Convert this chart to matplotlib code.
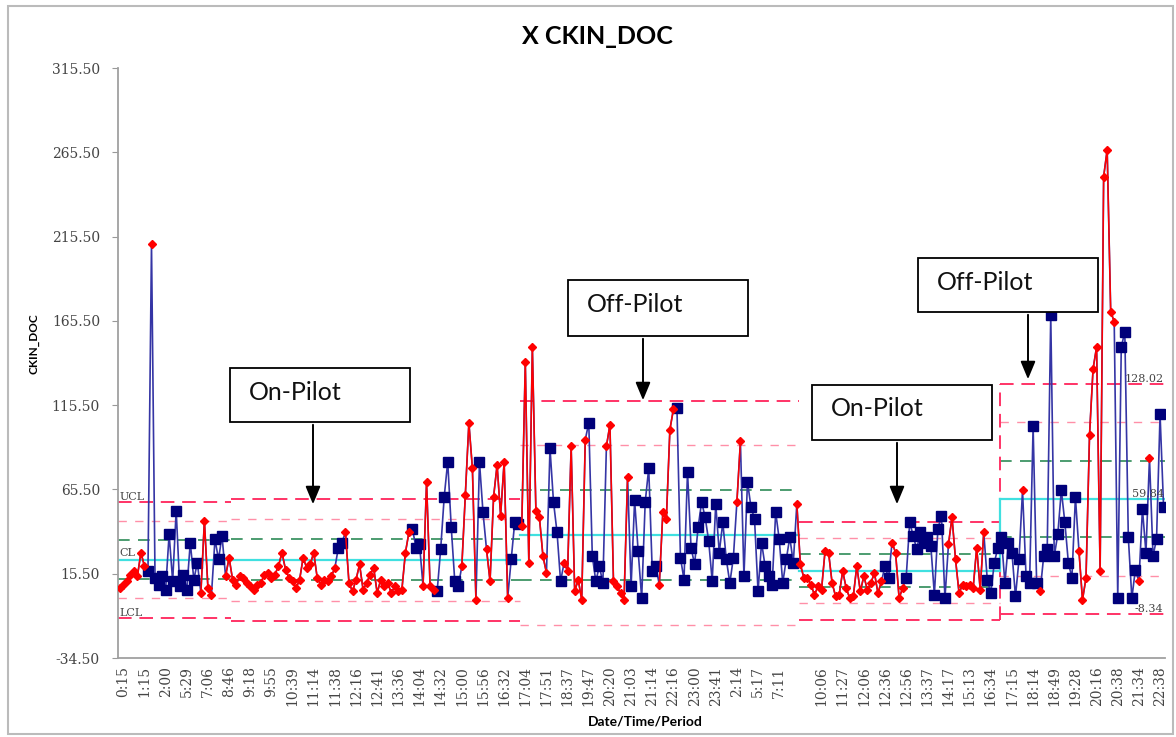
import numpy as np
import matplotlib.pyplot as plt
from matplotlib.patches import Rectangle, FancyArrowPatch

# values per control-limit stage; flags: r = out of control, b = in control
vals_1a = [7, 9, 11, 15, 17, 14, 28, 20, 17, 211,
           13, 9, 14, 6, 39, 11, 53, 8, 15, 6,
           34, 12, 22, 4, 47, 7, 3, 36, 24, 38,
           14, 25]
flags_1a = "rrrrrrrrbr bbbbbbbbbb bbbrrrrbbb rr"

vals_1b = [12, 9, 14, 13, 10, 8, 6, 9, 10, 15,
           16, 13, 15, 20, 28, 18, 13, 11, 7, 12,
           25, 19, 21, 28, 13, 9, 12, 11, 14, 19,
           31, 34, 40, 10, 5, 12, 21, 6, 10, 15,
           19, 4, 12, 8, 10, 4, 8, 5, 6, 28,
           40, 42, 31, 33, 8, 70, 8, 6, 5, 30,
           61, 82, 43, 11, 8, 20, 62, 105, 78, 0,
           82, 52, 30, 11, 61, 80, 50, 82, 1, 24,
           46, 45]
flags_1b = "rrrrrrrrrr rrrrrrrrrr rrrrrrrrrr bbrrrrrrrr rrrrrrrrrr rbbbrrrrbb bbbbbrrrrr bbrrrrrrrb bb"

vals_2 = [44, 141, 22, 150, 53, 49, 26, 16, 90, 58,
          40, 11, 22, 17, 91, 5, 12, 0, 95, 105,
          26, 11, 20, 10, 91, 104, 11, 8, 4, 0,
          73, 8, 59, 29, 1, 58, 78, 17, 20, 9,
          52, 48, 101, 113, 114, 25, 12, 76, 31, 21,
          43, 58, 49, 35, 11, 57, 28, 46, 24, 10,
          25, 58, 94, 14, 70, 55, 48, 5, 34, 20,
          14, 9, 52, 36, 10, 24, 37, 22, 57]
flags_2 = "rrrrrrrrbb bbrrrrrrrb bbbbrrrrrr rbbbbbbbbr rrrrbbbbbb bbbbbbbbbb brrbbbbbbb bbbbbbbbr"

vals_3 = [21, 13, 13, 9, 3, 8, 6, 29, 28, 10,
          2, 3, 17, 7, 1, 2, 20, 5, 14, 6,
          10, 16, 4, 11, 20, 13, 34, 28, 1, 7,
          13, 46, 38, 30, 40, 34, 37, 32, 3, 42,
          50, 1, 33, 49, 24, 4, 9, 8, 9, 7,
          31, 6, 40, 12, 4, 22, 31]
flags_3 = "rrrrrrrrrr rrrrrrrrrr rrrrbbrrrr bbbbbbbbbb bbrrrrrrrr rrrbbbb"

vals_4 = [37, 10, 34, 28, 2, 24, 65, 14, 10, 103,
          10, 5, 26, 30, 169, 26, 39, 65, 46, 22,
          13, 61, 29, 0, 13, 98, 137, 150, 17, 251,
          267, 171, 165, 1, 150, 159, 37, 1, 18, 11,
          54, 28, 84, 26, 36, 110, 55]
flags_4 = "bbbbbbrbbb brbbbbbbbb bbrrrrrrrr rrrbbbbbbr bbrbbbb"

# centre line and sigma of each stage
stage_cl = [23.8, 23.8, 38.4, 17.3, 59.84]
stage_sigma = [11.5, 12.1, 26.6, 9.7, 22.727]

tick_labels = ['0:15', '1:15', '2:00', '5:29', '7:06', '8:46', '9:18', '9:55', '10:39', '11:14',
               '11:38', '12:16', '12:41', '13:36', '14:04', '14:32', '15:00', '15:56', '16:32', '17:04',
               '17:51', '18:37', '19:47', '20:20', '21:03', '21:14', '22:16', '23:00', '23:41', '2:14',
               '5:17', '7:11', '', '10:06', '11:27', '12:06', '12:36', '12:56', '13:37', '14:17',
               '15:13', '16:34', '17:15', '18:14', '18:49', '19:28', '20:16', '20:38', '21:34', '22:38']

all_vals = [vals_1a, vals_1b, vals_2, vals_3, vals_4]
all_flags = [flags_1a, flags_1b, flags_2, flags_3, flags_4]
for v, f in zip(all_vals, all_flags):
    assert len(v) == len(f.replace(' ', '')), (len(v), len(f.replace(' ', '')))

values = np.array(sum(all_vals, []), dtype=float)
is_red = np.array([c == 'r' for c in ''.join(all_flags).replace(' ', '')])
x = np.arange(len(values))

W, H = 1176, 737
fig = plt.figure(figsize=(W / 100, H / 100), dpi=100)
ax = fig.add_axes([118 / W, 1 - 658 / H, 1047 / W, 590 / H])

# control limit lines
styles = {3: dict(color='#FF3366', lw=1.4, dashes=(7, 4)),
          2: dict(color='#FF8FA8', lw=1.0, dashes=(6, 6)),
          1: dict(color='#2E8B57', lw=1.2, dashes=(7, 5)),
          0: dict(color='#40E0E0', lw=1.6)}
start = 0
bounds = []
for vals, cl, sg in zip(all_vals, stage_cl, stage_sigma):
    end = start + len(vals)
    bounds.append((start - 0.5, end - 0.5))
    for m in (-3, -2, -1, 0, 1, 2, 3):
        y = cl + m * sg
        if -34.5 < y < 315.5:
            ax.plot([start - 0.5, end - 0.5], [y, y], zorder=2, **styles[abs(m)])
    start = end

# step between third and fourth stage
xb = bounds[4][0]
ax.plot([xb, xb], [stage_cl[3] - 3 * stage_sigma[3], stage_cl[4] + 3 * stage_sigma[4]],
        zorder=2, **styles[3])
ax.plot([xb, xb], [stage_cl[3], stage_cl[4]], zorder=2, **styles[0])

# data
ax.plot(x, values, color='#3535A5', lw=1.2, zorder=3)
ax.plot(x, np.where(is_red, np.nan, values), ls='none', marker='s', ms=6.5,
        color='#00007A', zorder=4)
ax.plot(x, np.where(is_red, values, np.nan), color='#FF0000', lw=1.1, marker='D', ms=4.5,
        zorder=5)

# limit labels
lab = dict(fontsize=8, color='#444444', family='DejaVu Serif', zorder=6)
ucl1, lcl1 = stage_cl[0] + 3 * stage_sigma[0], stage_cl[0] - 3 * stage_sigma[0]
ax.text(0, ucl1, 'UCL', ha='left', va='bottom', **lab)
ax.text(0, stage_cl[0] + 1, 'CL', ha='left', va='bottom', **lab)
ax.text(0, lcl1, 'LCL', ha='left', va='bottom', **lab)
last = len(values) - 1
ucl4, lcl4 = stage_cl[4] + 3 * stage_sigma[4], stage_cl[4] - 3 * stage_sigma[4]
ax.text(last, ucl4, f'{ucl4:.2f}', ha='right', va='bottom', **lab)
ax.text(last, stage_cl[4], f'{stage_cl[4]:.2f}', ha='right', va='bottom', **lab)
ax.text(last, lcl4, f'{lcl4:.2f}', ha='right', va='bottom', **lab)

# axes
ax.set_xlim(-0.5, 296.4)
ax.set_ylim(-34.5, 315.5)
yt = np.arange(-34.5, 316, 50)
ax.set_yticks(yt)
ax.set_yticklabels([f'{v:.2f}' for v in yt], family='DejaVu Serif', fontsize=10, color='#444444')
ax.set_xticks(np.arange(len(tick_labels)) * 6 + 1)
ax.set_xticklabels(tick_labels, rotation=90, family='DejaVu Serif', fontsize=10, color='#444444')
ax.tick_params(axis='y', length=4, pad=9, color='#999999')
ax.tick_params(axis='x', length=0, pad=6)
for s in ('top', 'right'):
    ax.spines[s].set_visible(False)
for s in ('left', 'bottom'):
    ax.spines[s].set_color('#A0A0A0')
    ax.spines[s].set_linewidth(1.3)

ax.set_ylabel('CKIN_DOC', family='Lato', fontweight='bold', fontsize=8.5)
ax.yaxis.set_label_coords((40 - 118) / 1047, (658 - 344) / 590)
ax.set_xlabel('Date/Time/Period', family='Lato', fontweight='bold', fontsize=10)
ax.xaxis.set_label_coords((645 - 118) / 1047, (658 - 716) / 590)

fig.text(597 / W, 1 - 37 / H, 'X CKIN_DOC', ha='center', va='center',
         family='Lato', fontweight='bold', fontsize=18)

# callout boxes with arrows (pixel layout)
callouts = [(230, 368, 410, 422, 'On-Pilot', 313, 507),
            (568, 280, 748, 336, 'Off-Pilot', 643, 403),
            (812, 385, 992, 440, 'On-Pilot', 897, 507),
            (918, 258, 1098, 312, 'Off-Pilot', 1028, 382)]
for x0, y0, x1, y1, txt, axp, tip in callouts:
    fig.add_artist(Rectangle((x0 / W, 1 - y1 / H), (x1 - x0) / W, (y1 - y0) / H,
                             transform=fig.transFigure, facecolor='white',
                             edgecolor='black', lw=1.3, zorder=10))
    fig.text((x0 + 19) / W, 1 - (y0 + 24) / H, txt, ha='left', va='center',
             family='Lato', fontsize=18, color='#111111', zorder=11)
    fig.add_artist(FancyArrowPatch((axp / W, 1 - y1 / H), (axp / W, 1 - tip / H),
                                   transform=fig.transFigure,
                                   arrowstyle='-|>,head_length=0.6,head_width=0.25',
                                   mutation_scale=18, color='black', lw=1.4, zorder=10))

# outer frame
fig.add_artist(Rectangle((8 / W, 3 / H), 1165 / W, 728 / H, transform=fig.transFigure,
                         fill=False, edgecolor='#BBBBBB', lw=1.5))

fig.savefig('out.png', dpi=100)
